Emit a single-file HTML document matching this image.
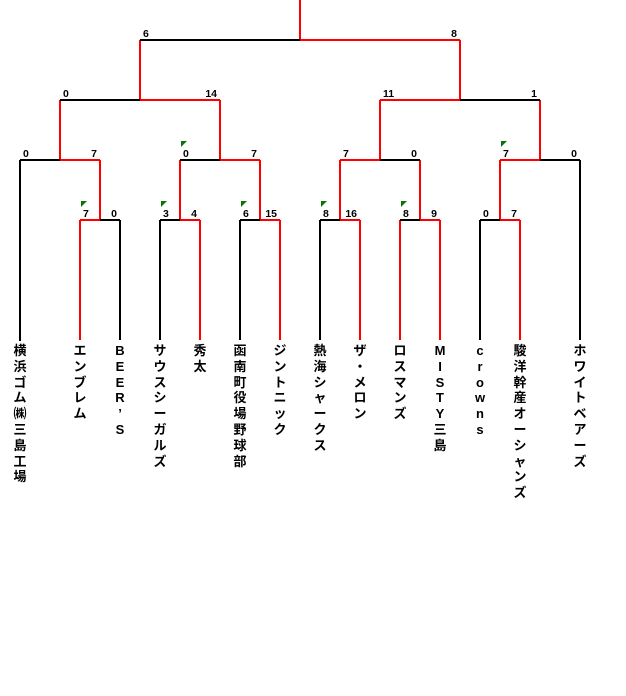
<!DOCTYPE html>
<html><head><meta charset="utf-8"><style>
body{margin:0;background:#fff;width:626px;height:696px;position:relative;overflow:hidden}
svg{position:absolute;left:0;top:0}
.l{position:absolute;top:343px;width:24px;text-align:center;font:bold 13px/15.8px "Liberation Sans","Noto Sans CJK JP",sans-serif;color:#000}
</style></head><body>
<svg width="626" height="696" xmlns="http://www.w3.org/2000/svg" fill="none" stroke-width="2">
<g stroke="#f00">
<path d="M300 0V40M300 40H460M140 40V100M140 100H220M460 40V100M380 100H460"/>
<path d="M60 100V160M60 160H100M220 100V160M220 160H260M380 100V160M340 160H380M540 100V160M500 160H540"/>
<path d="M100 160V220M80 220H100M80 220V340M180 160V220M180 220H200M200 220V340M260 160V220M260 220H280M280 220V340M340 160V220M340 220H360M360 220V340M420 160V220M420 220H440M400 220V340M440 220V340M500 160V220M500 220H520M520 220V340"/>
</g>
<g stroke="#000">
<path d="M140 40H300M60 100H140M460 100H540M20 160H60M180 160H220M380 160H420M540 160H580"/>
<path d="M20 160V341M100 220H120M120 220V340M160 220H180M160 220V340M240 220H260M240 220V340M320 220H340M320 220V340M400 220H420M480 220H500M480 220V340M580 160V340"/>
</g>
<g fill="#0a720a">
<polygon points="181,141 187,141 181,147"/>
<polygon points="501,141 507,141 501,147"/>
<polygon points="81,201 87,201 81,207"/>
<polygon points="161,201 167,201 161,207"/>
<polygon points="241,201 247,201 241,207"/>
<polygon points="321,201 327,201 321,207"/>
<polygon points="401,201 407,201 401,207"/>
</g>
<g fill="#000" font-family="Liberation Sans, sans-serif" font-size="10.5" font-weight="bold">
<text x="143" y="37">6</text><text x="457" y="37" text-anchor="end">8</text>
<text x="63" y="97">0</text><text x="217" y="97" text-anchor="end">14</text>
<text x="383" y="97">11</text><text x="537" y="97" text-anchor="end">1</text>
<text x="23" y="157">0</text><text x="97" y="157" text-anchor="end">7</text>
<text x="183" y="157">0</text><text x="257" y="157" text-anchor="end">7</text>
<text x="343" y="157">7</text><text x="417" y="157" text-anchor="end">0</text>
<text x="503" y="157">7</text><text x="577" y="157" text-anchor="end">0</text>
<text x="83" y="217">7</text><text x="117" y="217" text-anchor="end">0</text>
<text x="163" y="217">3</text><text x="197" y="217" text-anchor="end">4</text>
<text x="243" y="217">6</text><text x="277" y="217" text-anchor="end">15</text>
<text x="323" y="217">8</text><text x="357" y="217" text-anchor="end">16</text>
<text x="403" y="217">8</text><text x="437" y="217" text-anchor="end">9</text>
<text x="483" y="217">0</text><text x="517" y="217" text-anchor="end">7</text>
</g>
</svg>
<div class="l" style="left:8px">横<br>浜<br>ゴ<br>ム<br>㈱<br>三<br>島<br>工<br>場</div>
<div class="l" style="left:68px">エ<br>ン<br>ブ<br>レ<br>ム</div>
<div class="l" style="left:108px">B<br>E<br>E<br>R<br>’<br>S</div>
<div class="l" style="left:148px">サ<br>ウ<br>ス<br>シ<br>ー<br>ガ<br>ル<br>ズ</div>
<div class="l" style="left:188px">秀<br>太</div>
<div class="l" style="left:228px">函<br>南<br>町<br>役<br>場<br>野<br>球<br>部</div>
<div class="l" style="left:268px">ジ<br>ン<br>ト<br>ニ<br>ッ<br>ク</div>
<div class="l" style="left:308px">熱<br>海<br>シ<br>ャ<br>ー<br>ク<br>ス</div>
<div class="l" style="left:348px">ザ<br>・<br>メ<br>ロ<br>ン</div>
<div class="l" style="left:388px">ロ<br>ス<br>マ<br>ン<br>ズ</div>
<div class="l" style="left:428px">M<br>I<br>S<br>T<br>Y<br>三<br>島</div>
<div class="l" style="left:468px">c<br>r<br>o<br>w<br>n<br>s</div>
<div class="l" style="left:508px">駿<br>洋<br>幹<br>産<br>オ<br>ー<br>シ<br>ャ<br>ン<br>ズ</div>
<div class="l" style="left:568px">ホ<br>ワ<br>イ<br>ト<br>ベ<br>ア<br>ー<br>ズ</div>
</body></html>
